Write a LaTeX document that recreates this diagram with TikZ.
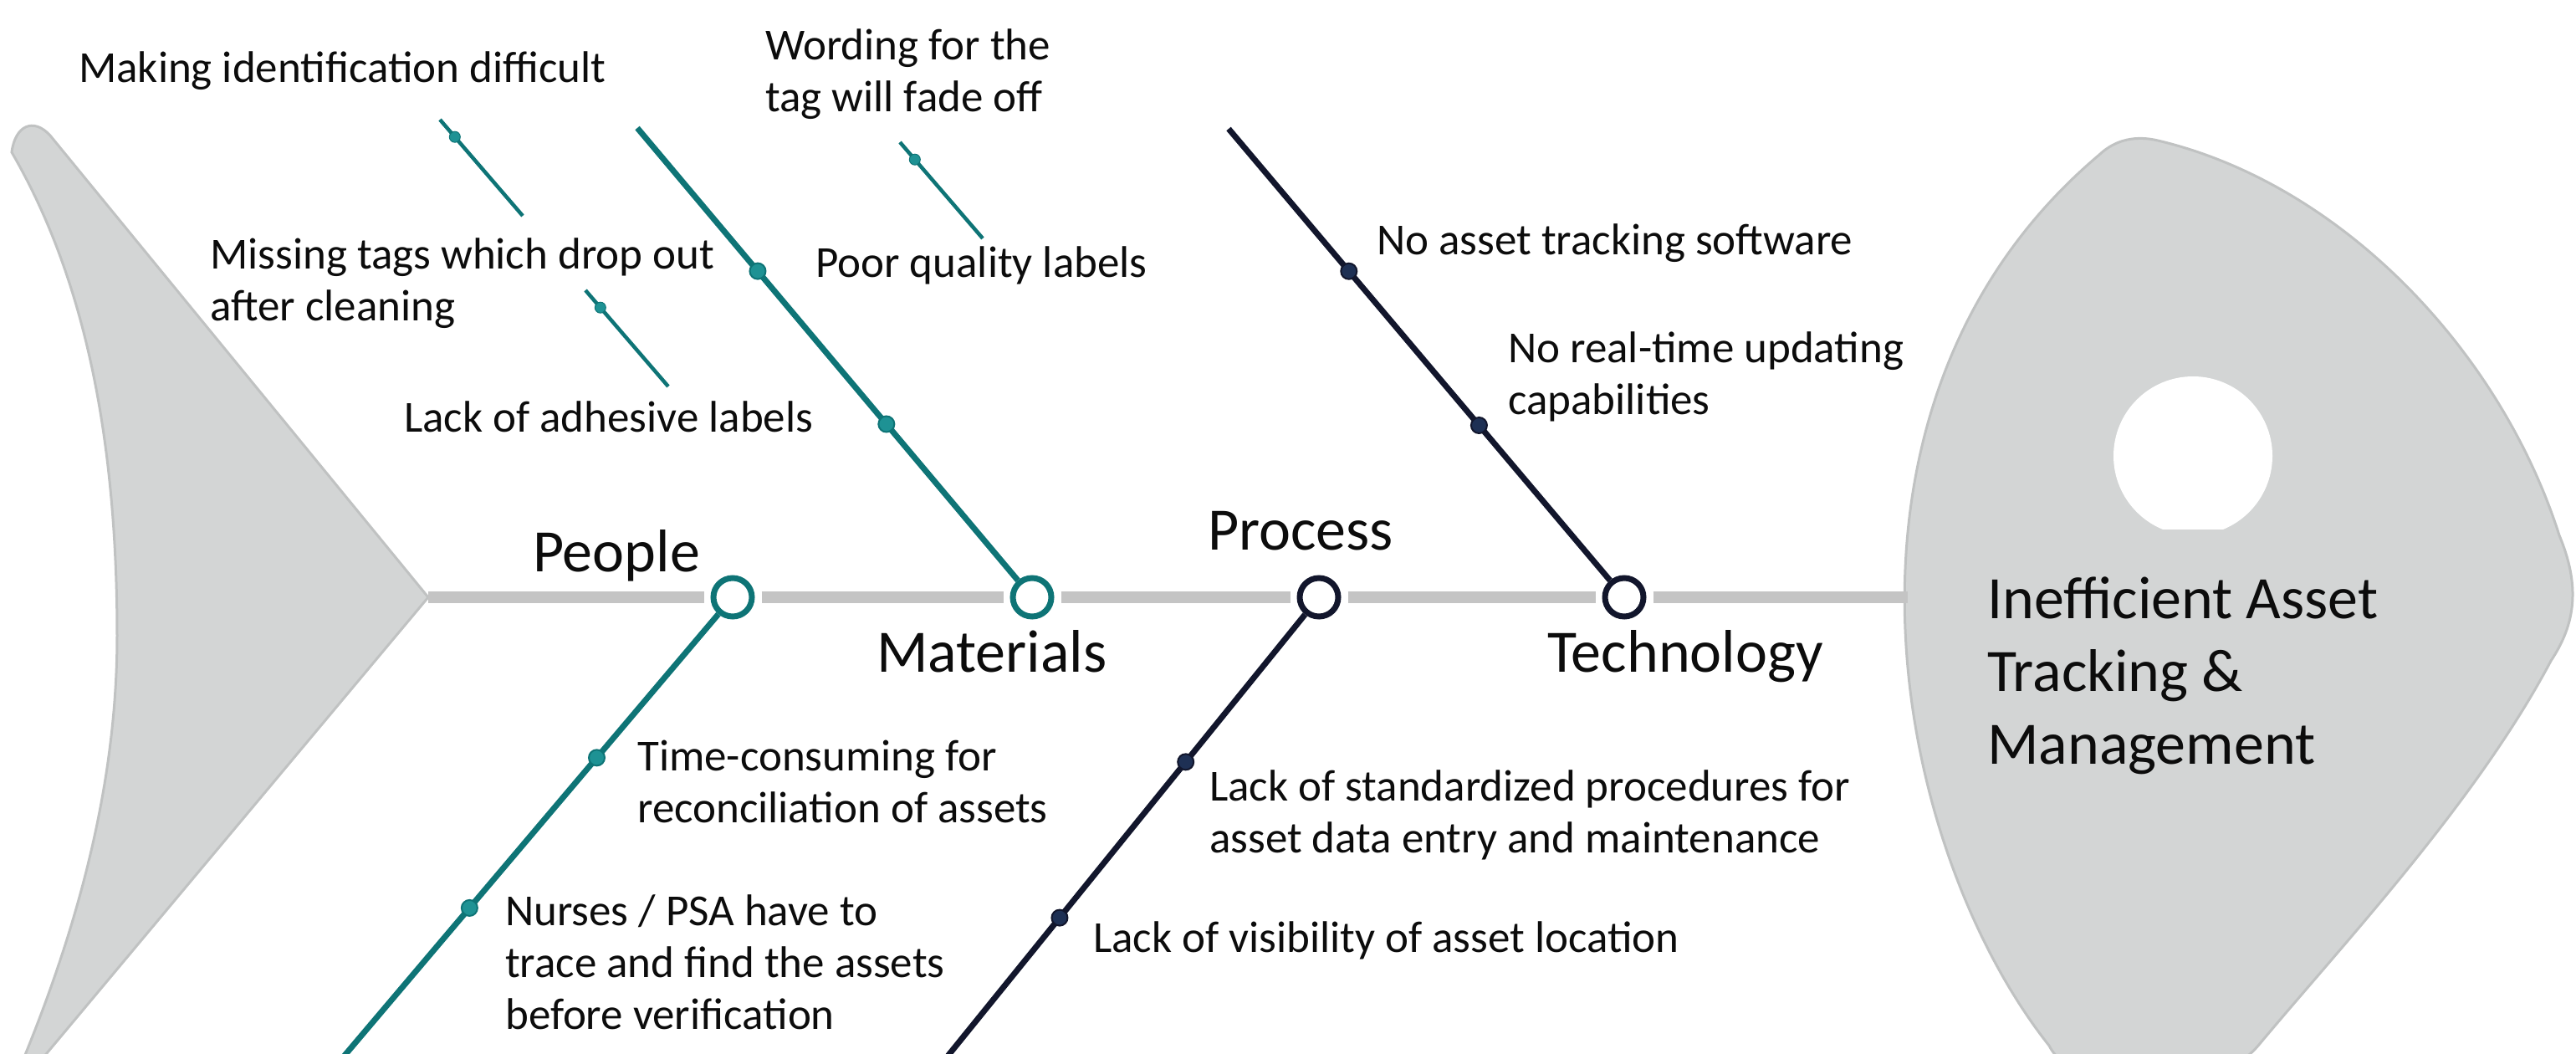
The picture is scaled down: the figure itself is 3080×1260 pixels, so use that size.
\documentclass[tikz,border=0pt]{standalone}
\usepackage{fontspec}
\setmainfont{Carlito}
\usetikzlibrary{calc}

\definecolor{bonegrey}{RGB}{211,213,213}
\definecolor{edgegrey}{RGB}{192,194,194}
\definecolor{spinegrey}{RGB}{196,196,196}
\definecolor{causeteal}{RGB}{14,116,118}
\definecolor{dotteal}{RGB}{30,146,148}
\definecolor{causenavy}{RGB}{18,22,44}
\definecolor{dotnavy}{RGB}{30,48,84}
\definecolor{inkblack}{RGB}{12,12,12}

\tikzset{
  causetext/.style={font=\fontsize{53}{62}\selectfont, text=inkblack, align=left, inner sep=0pt, anchor=north west},
  bonetext/.style={font=\fontsize{72}{87}\selectfont, text=inkblack, align=left, inner sep=0pt, anchor=north west},
  bonering/.style={circle, draw=#1, line width=7pt, fill=white, minimum size=46pt, inner sep=0pt},
  knot/.style={circle, fill=dot#1, draw=cause#1, line width=2pt, minimum size=19pt, inner sep=0pt},
  bud/.style={circle, fill=dotteal, draw=causeteal, line width=1pt, minimum size=13pt, inner sep=0pt},
  spine/.style={spinegrey, line width=14pt},
}

\begin{document}
\begin{tikzpicture}[x=1pt,y=-1pt]
  \useasboundingbox (0,0) rectangle (3080,1260);
  \clip (0,0) rectangle (3080,1260);

  % tail and head
  \fill[bonegrey, draw=edgegrey, line width=3pt] (14,182) .. controls (18,150) and (40,140) .. (60,162)
    -- (512,714) -- (5,1320) .. controls (80,1150) and (140,960) .. (140,760)
    .. controls (140,520) and (100,330) .. cycle;
  \fill[bonegrey, draw=edgegrey, line width=3pt] (2580,168) .. controls (2800,220) and (2990,420) .. (3060,640)
    .. controls (3085,700) and (3080,745) .. (3050,790) .. controls (2960,960) and (2800,1130) .. (2700,1250)
    .. controls (2640,1320) and (2480,1310) .. (2450,1250) .. controls (2260,1010) and (2160,480) .. (2510,185)
    .. controls (2530,166) and (2555,162) .. cycle;
  \begin{scope}
    \clip (2400,300) rectangle (2800,632);
    \fill[white] (2622,545) circle [radius=95pt];
  \end{scope}

  \coordinate (tailend) at (512,714);
  \coordinate (headend) at (2281,714);

  \node[bonering=causeteal] (people) at (876,714) {};
  \node[bonering=causeteal] (materials) at (1234,714) {};
  \node[bonering=causenavy] (process) at (1577,714) {};
  \node[bonering=causenavy] (technology) at (1942,714) {};

  \draw[spine, shorten >=8pt] (tailend) -- (people);
  \draw[spine, shorten <=8pt, shorten >=8pt] (people) -- (materials);
  \draw[spine, shorten <=8pt, shorten >=8pt] (materials) -- (process);
  \draw[spine, shorten <=8pt, shorten >=8pt] (process) -- (technology);
  \draw[spine, shorten <=8pt] (technology) -- (headend);

  % bones
  \coordinate (materials-tip) at (762,153);
  \coordinate (technology-tip) at (1469,154);
  \coordinate (people-tip) at (405,1270);
  \coordinate (process-tip) at (1127,1270);
  \draw[causeteal, line width=7pt] (materials) -- (materials-tip);
  \draw[causeteal, line width=7pt] (people) -- (people-tip);
  \draw[causenavy, line width=7pt] (technology) -- (technology-tip);
  \draw[causenavy, line width=7pt] (process) -- (process-tip);

  \foreach \bone/\pos/\col/\k in {materials/0.369/teal/1, materials/0.695/teal/2,
      technology/0.367/navy/1, technology/0.696/navy/2,
      people/0.345/teal/1, people/0.668/teal/2,
      process/0.354/navy/1, process/0.689/navy/2}{
    \node[knot=\col] (\bone-\k) at ($(\bone)!\pos!(\bone-tip)$) {};
  }

  \foreach \k/\sx/\sy in {1/526/143, 2/700/347, 3/1076/170}{
    \coordinate (twig\k-top) at (\sx,\sy);
    \coordinate (twig\k-foot) at (\sx+99,\sy+115);
    \draw[causeteal, line width=4.5pt] (twig\k-top) -- (twig\k-foot);
    \node[bud] (twig\k-bud) at ($(twig\k-top)!0.18!(twig\k-foot)$) {};
  }

  % labels
  \node[bonetext] (people-label) at (637,633) {People};
  \node[bonetext] (process-label) at (1444,611) {Process};
  \node[bonetext] (materials-label) at (1048,753) {Materials};
  \node[bonetext] (technology-label) at (1850,753) {Technology};

  \node[causetext] (identify) at (94,62) {Making identification difficult};
  \node[causetext] (wording) at (915,35) {Wording for the\\tag will fade off};
  \node[causetext] (missing) at (251,284) {Missing tags which drop out\\after cleaning};
  \node[causetext] (quality) at (975,294) {Poor quality labels};
  \node[causetext] (adhesive) at (483,479) {Lack of adhesive labels};
  \node[causetext] (software) at (1646,267) {No asset tracking software};
  \node[causetext] (realtime) at (1803,396) {No real-time updating\\capabilities};
  \node[causetext] (reconcile) at (762,885) {Time-consuming for\\reconciliation of assets};
  \node[causetext] (nurses) at (604,1069) {Nurses / PSA have to\\trace and find the assets\\before verification};
  \node[causetext] (procedures) at (1446,920) {Lack of standardized procedures for\\asset data entry and maintenance};
  \node[causetext] (visibility) at (1307,1101) {Lack of visibility of asset location};

  \node[bonetext] (effect) at (2376,690) {Inefficient Asset\\Tracking \&\\Management};
\end{tikzpicture}
\end{document}
